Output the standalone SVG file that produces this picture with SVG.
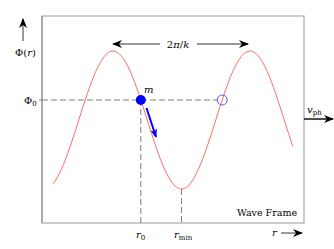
<svg xmlns="http://www.w3.org/2000/svg" width="334" height="249" viewBox="0 0 334 249">
<style>
text{font-family:"DejaVu Serif",serif;font-size:10px;fill:#000}
.it{font-style:italic}
.sub{font-size:7px}
.dash{stroke:#808080;stroke-width:1;stroke-dasharray:6,3;fill:none}
.ax{stroke:#000;stroke-width:0.8;fill:none}
</style>
<defs>
<marker id="ah" viewBox="0 0 10 10" refX="9" refY="5" markerWidth="10" markerHeight="10" markerUnits="userSpaceOnUse" orient="auto">
<path d="M0,1 L10,5 L0,9 L3,5 Z" fill="#000"/>
</marker>
<marker id="ahb" viewBox="0 0 10 10" refX="9" refY="5" markerWidth="9" markerHeight="9" markerUnits="userSpaceOnUse" orient="auto">
<path d="M0,1 L10,5 L0,9 L3,5 Z" fill="#0000ff"/>
</marker>
</defs>
<rect width="334" height="249" fill="#fff"/>
<g id="frame">
<rect x="42" y="16" width="262" height="207" fill="none" stroke="#999" stroke-width="1"/>
<line x1="42" y1="16" x2="42" y2="223" stroke="#a0a0a0" stroke-width="1.6"/>
<text x="297" y="216" text-anchor="end" textLength="60" lengthAdjust="spacingAndGlyphs">Wave Frame</text>
</g>
<g id="connectors">
<path class="dash" d="M42,100 H217"/>
<path class="dash" d="M140.8,100 V224"/>
<path class="dash" d="M181.5,189 V224"/>
<line x1="39" y1="100" x2="42" y2="100" stroke="#808080" stroke-width="1"/>
<line class="ax" x1="23" y1="41" x2="23" y2="19" marker-end="url(#ah)"/>
<line class="ax" x1="160" y1="44" x2="113" y2="44" marker-end="url(#ah)"/>
<line class="ax" x1="197" y1="44" x2="248" y2="44" marker-end="url(#ah)"/>
<line x1="304" y1="119" x2="333" y2="119" stroke="#000" stroke-width="1.4" marker-end="url(#ah)"/>
<line class="ax" x1="281" y1="233" x2="302" y2="233" marker-end="url(#ah)"/>
<line x1="146.5" y1="108" x2="156" y2="137" stroke="#0000ff" stroke-width="2" marker-end="url(#ahb)"/>
</g>
<g id="wave">
<path fill="none" stroke="#ff6b6b" stroke-width="1" d="M53.06,183.75 C55.91,180.29 58.78,175.18 61.63,168.79 S67.34,154.76 70.19,146.41 S75.90,129.03 78.75,120 S84.46,101.94 87.31,93.59 S93.03,77.60 95.88,71.21 S101.59,59.71 104.44,56.25 S110.15,51 113,51 S118.71,52.79 121.56,56.25 S127.28,64.82 130.13,71.21 S135.84,85.25 138.69,93.59 S144.40,110.97 147.25,120 S152.96,138.07 155.81,146.41 S161.53,162.40 164.38,168.79 S170.09,180.29 172.94,183.75 S178.65,189 181.5,189 S187.21,187.21 190.06,183.75 S195.78,175.18 198.63,168.79 S204.34,154.76 207.19,146.41 S212.90,129.03 215.75,120 S221.46,101.94 224.31,93.59 S230.03,77.60 232.88,71.21 S238.59,59.71 241.44,56.25 S247.15,51 250,51 S255.71,52.79 258.56,56.25 S264.28,64.82 267.13,71.21 S272.84,85.25 275.69,93.59 S281.40,110.97 284.25,120 S289.96,138.07 292.81,146.41"/>
</g>
<g id="particle">
<circle cx="140.8" cy="100" r="5" fill="#0000ff"/>
<text x="144" y="93" class="it">m</text>
</g>
<g id="ghost">
<circle cx="222.2" cy="100" r="5" fill="none" stroke="#5555ff" stroke-width="1"/>
</g>
<g id="labels">
<text x="25.5" y="56" text-anchor="middle">Φ(<tspan class="it">r</tspan>)</text>
<text x="24" y="104">Φ<tspan class="sub" dy="2">0</tspan></text>
<text x="178" y="48" text-anchor="middle">2<tspan class="it">π</tspan>/<tspan class="it">k</tspan></text>
<text x="307" y="113" class="it">v<tspan class="sub" dy="2" font-style="normal">ph</tspan></text>
<text x="136" y="238" class="it">r<tspan class="sub" dy="2" font-style="normal">0</tspan></text>
<text x="174" y="238" class="it">r<tspan class="sub" dy="2" font-style="normal">min</tspan></text>
<text x="272" y="236" class="it">r</text>
</g>
</svg>
